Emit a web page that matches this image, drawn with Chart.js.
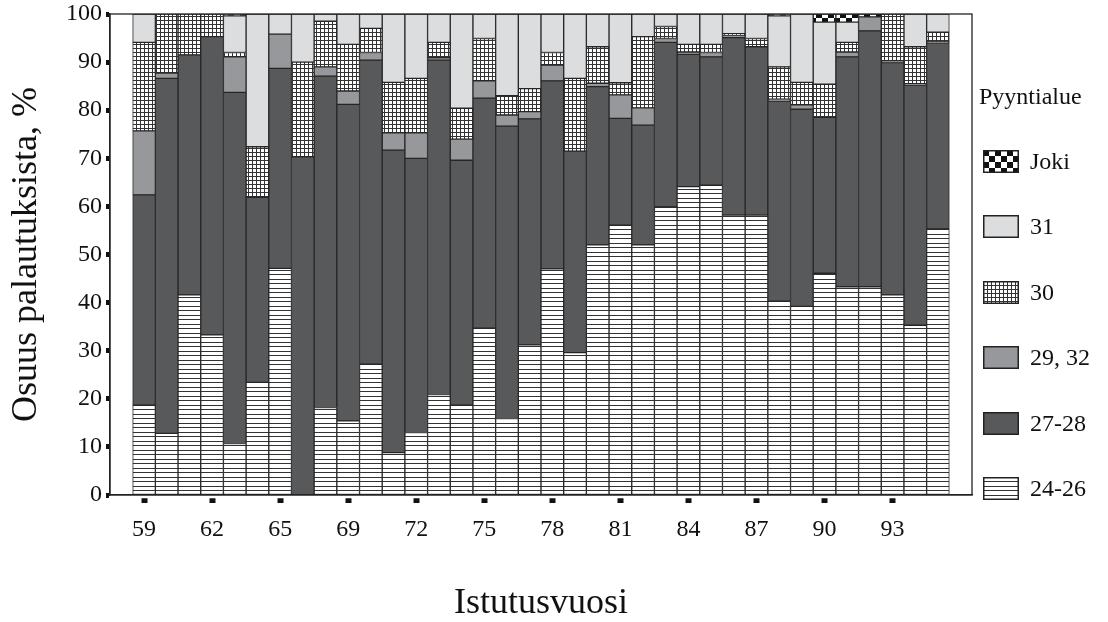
<!DOCTYPE html>
<html>
<head>
<meta charset="utf-8">
<script src="https://cdn.jsdelivr.net/npm/chart.js@4.4.1/dist/chart.umd.min.js"></script>
<style>
  html, body { margin: 0; padding: 0; background: #fff; }
  #wrap { position: relative; width: 1108px; height: 622px; }
  #legend { position: absolute; left: 0; top: 0; width: 1108px; height: 622px; pointer-events: none;
            font-family: 'Liberation Serif', 'Times New Roman', serif; color: #111; font-size: 24px; }
  #legend .title { position: absolute; left: 979px; top: 82px; line-height: 28px; }
  #legend .item { position: absolute; left: 983px; height: 32px; display: flex; align-items: center; }
  #legend .item canvas { display: block; margin-right: 11px; }
</style>
</head>
<body>
<div id="wrap">
  <canvas id="chart"></canvas>
  <div id="legend"></div>
</div>
<script>
// release years (1968 missing)
const years = ['59', '60', '61', '62', '63', '64', '65', '66', '67',
  '69', '70', '71', '72', '73', '74', '75', '76', '77', '78', '79', '80', '81', '82',
  '83', '84', '85', '86', '87', '88', '89', '90', '91', '92', '93', '94', '95'];
const shownYears = ['59', '62', '65', '69', '72', '75', '78', '81', '84', '87', '90', '93'];

// share of returns per fishing area, %
const area2426 = [18.7, 12.8, 41.6, 33.3, 10.7, 23.4, 47.1, 0, 18.2,
  15.4, 27.2, 8.8, 13.0, 20.9, 18.7, 34.7, 15.9, 31.2, 47.0, 29.6, 52.0, 56.1, 52.0,
  59.9, 64.1, 64.4, 58.2, 58.2, 40.3, 39.2, 46.1, 43.3, 43.3, 41.6, 35.3, 55.3];
const area2728 = [43.7, 73.8, 49.9, 62.0, 73.0, 38.5, 41.6, 70.3, 68.9,
  65.8, 63.2, 62.9, 57.0, 69.5, 50.9, 47.8, 60.8, 47.0, 39.1, 41.9, 32.9, 22.2, 24.9,
  34.2, 27.5, 26.7, 36.9, 35.0, 41.6, 41.0, 32.4, 47.8, 53.2, 48.3, 49.9, 38.7];
const area2932 = [13.3, 1.1, 0, 0, 7.4, 0, 7.1, 0, 1.9,
  2.8, 1.6, 3.6, 5.3, 0.5, 4.4, 3.6, 2.3, 1.5, 3.3, 0, 0.7, 4.9, 3.6,
  0.8, 0.5, 0.9, 0.5, 0, 0.4, 0.9, 0, 1.0, 2.9, 0.3, 0.3, 0.2];
const area30 = [18.4, 12.3, 8.5, 4.7, 0.9, 10.5, 0, 19.7, 9.5,
  9.7, 5.0, 10.5, 11.3, 3.2, 6.4, 8.8, 4.0, 4.8, 2.6, 15.1, 7.6, 2.5, 14.8,
  2.5, 1.6, 1.7, 0.3, 1.7, 6.7, 4.7, 6.9, 2.0, 0, 9.8, 7.7, 2.0];
const area31 = [5.9, 0, 0, 0, 7.6, 27.6, 4.2, 10.0, 1.5,
  6.3, 3.0, 14.2, 13.4, 5.9, 19.6, 5.1, 17.0, 15.5, 8.0, 13.4, 6.8, 14.3, 4.7,
  2.6, 6.3, 6.3, 4.1, 5.1, 10.6, 14.2, 12.9, 4.2, 0, 0, 6.8, 3.8];
const areaJoki = [0, 0, 0, 0, 0.4, 0, 0, 0, 0,
  0, 0, 0, 0, 0, 0, 0, 0, 0, 0, 0, 0, 0, 0,
  0, 0, 0, 0, 0, 0.4, 0, 1.7, 1.7, 0.6, 0, 0, 0];

const seriesNames = ['24-26', '27-28', '29, 32', '30', '31', 'Joki'];
const seriesData = [area2426, area2728, area2932, area30, area31, areaJoki];

const serif = "'Liberation Serif', 'Times New Roman', serif";

function makePattern(type) {
  const c = document.createElement('canvas');
  const g = c.getContext('2d');
  if (type === 'hlines') {
    c.width = 4; c.height = 9;
    g.fillStyle = '#fff'; g.fillRect(0, 0, 4, 9);
    g.fillStyle = '#333';
    g.fillRect(0, 0, 4, 1); g.fillRect(0, 4, 4, 1);
  } else if (type === 'grid') {
    c.width = 4; c.height = 4;
    g.fillStyle = '#fff'; g.fillRect(0, 0, 4, 4);
    g.fillStyle = '#333';
    g.fillRect(0, 0, 4, 1); g.fillRect(0, 0, 1, 4);
  } else {
    c.width = 12; c.height = 12;
    g.fillStyle = '#fff'; g.fillRect(0, 0, 12, 12);
    g.fillStyle = '#111';
    g.fillRect(0, 0, 6, 6); g.fillRect(6, 6, 6, 6);
  }
  return g.createPattern(c, 'repeat');
}

const fills = [makePattern('hlines'), '#58595b', '#97989b', makePattern('grid'), '#dcddde', makePattern('checker')];

// one empty slot on each side of the bars
const labels = [''].concat(years, ['']);

const framePlugin = {
  id: 'frame',
  afterDraw(chart) {
    const { ctx, chartArea: a } = chart;
    ctx.save();
    ctx.strokeStyle = '#222';
    ctx.lineWidth = 1.3;
    ctx.strokeRect(a.left, a.top, a.right - a.left, a.bottom - a.top);
    ctx.restore();
  }
};

const ctx = document.getElementById('chart');

new Chart(ctx, {
  type: 'bar',
  data: {
    labels: labels,
    datasets: seriesNames.map((name, i) => ({
      label: name,
      data: [null].concat(seriesData[i], [null]),
      backgroundColor: fills[i],
      borderColor: '#262626',
      borderWidth: 1,
      borderSkipped: false,
      barPercentage: 1,
      categoryPercentage: 1
    }))
  },
  options: {
    responsive: true,
    maintainAspectRatio: false,
    animation: false,
    layout: { padding: { top: 14, right: 136, bottom: 0, left: 0 } },
    plugins: {
      legend: { display: false },
      tooltip: { enabled: false }
    },
    scales: {
      x: {
        stacked: true,
        afterFit: s => { s.height = 127; },
        ticks: {
          autoSkip: false,
          maxRotation: 0,
          color: '#111',
          font: { family: serif, size: 24 },
          padding: 12,
          callback: (value, index) => shownYears.includes(labels[index]) ? labels[index] : ''
        },
        grid: {
          offset: false,
          drawOnChartArea: false,
          tickLength: 8,
          tickWidth: 6,
          tickBorderDash: [0, 3, 5, 20],
          tickColor: c => shownYears.includes(labels[c.index]) ? '#111' : 'rgba(0,0,0,0)'
        },
        border: { color: '#222', width: 1.3 },
        title: {
          display: true,
          text: 'Istutusvuosi',
          color: '#111',
          font: { family: serif, size: 36, lineHeight: 1 },
          padding: { top: 0, bottom: 0 }
        }
      },
      y: {
        stacked: true,
        min: 0,
        max: 100,
        afterFit: s => { s.width = 110; s.paddingTop = 0; s.paddingBottom = 0; },
        ticks: {
          stepSize: 10,
          color: '#111',
          font: { family: serif, size: 24 },
          padding: 4
        },
        grid: {
          drawOnChartArea: false,
          tickLength: 4,
          tickWidth: 5,
          tickColor: '#111'
        },
        border: { color: '#222', width: 1.3 },
        title: {
          display: true,
          text: 'Osuus palautuksista, %',
          color: '#111',
          font: { family: serif, size: 36, lineHeight: 1 },
          padding: { top: 9, bottom: 0 }
        }
      }
    }
  },
  plugins: [framePlugin]
});

// legend, top entry first
const legend = document.getElementById('legend');
const title = document.createElement('div');
title.className = 'title';
title.textContent = 'Pyyntialue';
legend.append(title);

const legendCenters = [163, 228.5, 294, 359.5, 425, 490.5];
seriesNames.slice().reverse().forEach((name, k) => {
  const i = seriesNames.length - 1 - k;
  const item = document.createElement('div');
  item.className = 'item';
  item.style.top = (legendCenters[k] - 18) + 'px';
  const sw = document.createElement('canvas');
  sw.width = 36; sw.height = 23;
  const g = sw.getContext('2d');
  g.fillStyle = fills[i];
  g.fillRect(0, 0, 36, 23);
  g.strokeStyle = '#222';
  g.lineWidth = 1.5;
  g.strokeRect(0.75, 0.75, 34.5, 21.5);
  const label = document.createElement('span');
  label.textContent = name;
  item.append(sw, label);
  legend.append(item);
});
</script>
</body>
</html>
